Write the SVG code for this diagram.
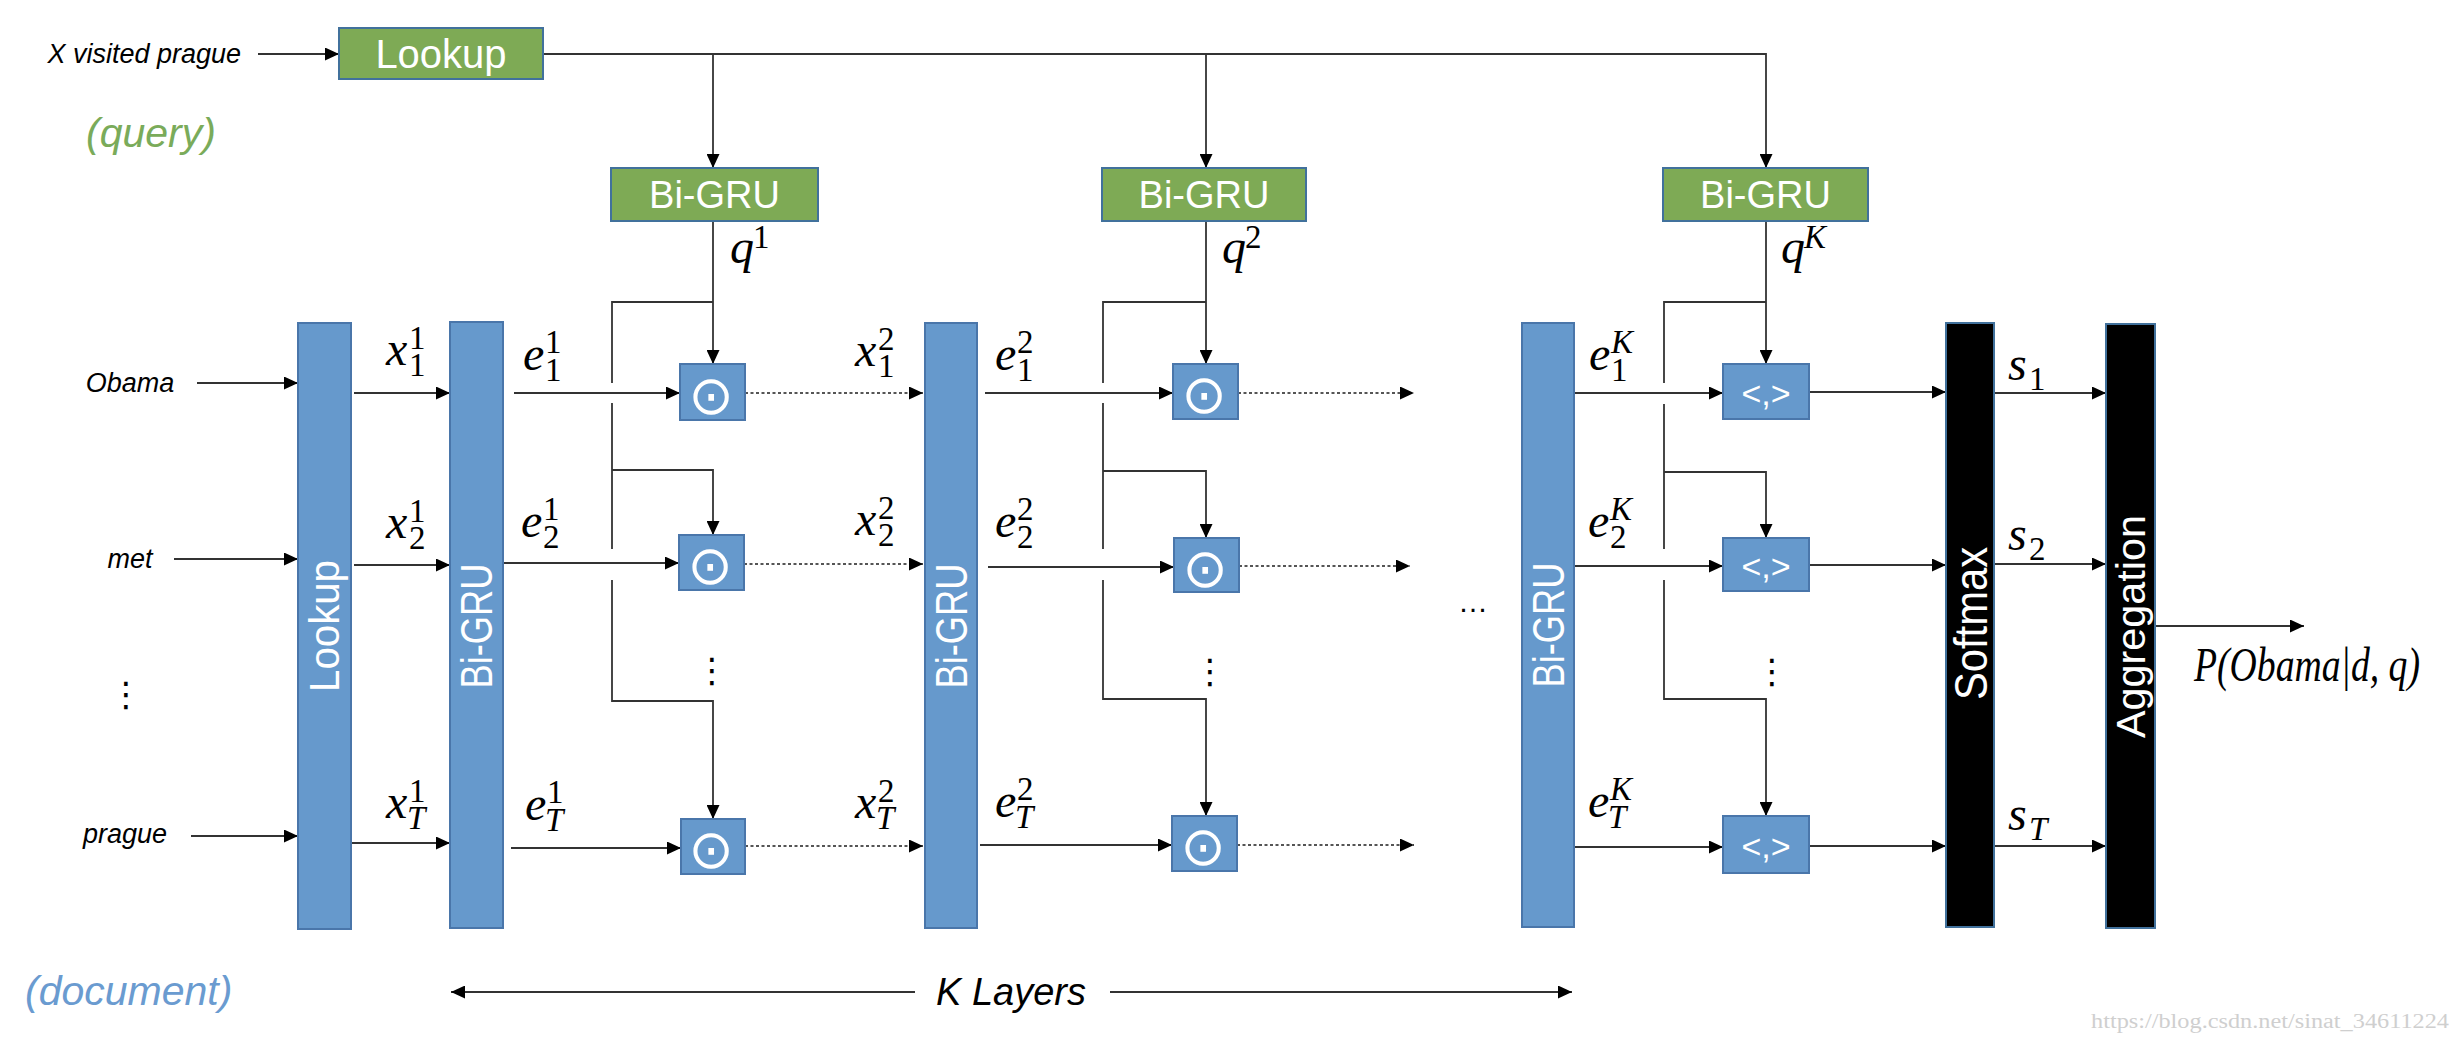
<svg xmlns="http://www.w3.org/2000/svg" width="2462" height="1042" viewBox="0 0 2462 1042">
<defs>
<style>
.bg{fill:#fff}
.g{fill:#7EAA55;stroke:#41719C;stroke-width:2}
.b{fill:#6699CC;stroke:#4A76AA;stroke-width:2}
.k{fill:#000;stroke:#41719C;stroke-width:2}
.wt{fill:#fff;font-family:"Liberation Sans",Arial,sans-serif;text-anchor:middle}
.sym{fill:#fff;font-family:"DejaVu Sans",sans-serif;text-anchor:middle;font-size:54px}
.ip{fill:#fff;font-family:"Liberation Sans",Arial,sans-serif;text-anchor:middle;font-size:34px}
.lbl{font-family:"Liberation Sans",Arial,sans-serif;font-style:italic;font-size:27px;fill:#000}
.m{font-family:"Liberation Serif","Times New Roman",serif;font-style:italic;font-size:48px;fill:#000}
.s{font-size:33px}
.d{font-style:normal}
.dots{font-family:"DejaVu Sans",sans-serif;font-size:34px;fill:#000;text-anchor:middle}
.ln{fill:none;stroke:#333;stroke-width:1.8}
.dt{fill:none;stroke:#555;stroke-width:2;stroke-dasharray:3 2.5}
</style>
<marker id="ah" markerWidth="14" markerHeight="13" refX="14" refY="6.5" orient="auto-start-reverse" markerUnits="userSpaceOnUse">
<path d="M0,0 L14,6.5 L0,13 z" fill="#000"/>
</marker>
</defs>
<rect class="bg" x="0" y="0" width="2462" height="1042"/>

<g id="connectors">
<path class="ln" d="M258,54 H339" marker-end="url(#ah)"/>
<path class="ln" d="M543,54 H1766 V168" marker-end="url(#ah)"/>
<path class="ln" d="M713,54 V168" marker-end="url(#ah)"/>
<path class="ln" d="M1206,54 V168" marker-end="url(#ah)"/>

<path class="ln" d="M197,383 H298" marker-end="url(#ah)"/>
<path class="ln" d="M174,559 H298" marker-end="url(#ah)"/>
<path class="ln" d="M191,836 H298" marker-end="url(#ah)"/>

<path class="ln" d="M354,393 H450" marker-end="url(#ah)"/>
<path class="ln" d="M354,565 H450" marker-end="url(#ah)"/>
<path class="ln" d="M351,843 H450" marker-end="url(#ah)"/>

<path class="ln" d="M514,393 H680" marker-end="url(#ah)"/>
<path class="ln" d="M503,563 H679" marker-end="url(#ah)"/>
<path class="ln" d="M511,848 H681" marker-end="url(#ah)"/>

<path class="ln" d="M713,221 V364" marker-end="url(#ah)"/>
<path class="ln" d="M713,302 H612 V383 M612,403 V549 M612,580 V701 H713 V819" marker-end="url(#ah)"/>
<path class="ln" d="M612,470 H713 V535" marker-end="url(#ah)"/>

<path class="dt" d="M745,393 H923" marker-end="url(#ah)"/>
<path class="dt" d="M744,564 H923" marker-end="url(#ah)"/>
<path class="dt" d="M745,846 H923" marker-end="url(#ah)"/>

<path class="ln" d="M985,393 H1173" marker-end="url(#ah)"/>
<path class="ln" d="M988,567 H1174" marker-end="url(#ah)"/>
<path class="ln" d="M980,845 H1172" marker-end="url(#ah)"/>

<path class="ln" d="M1206,221 V364" marker-end="url(#ah)"/>
<path class="ln" d="M1206,302 H1103 V383 M1103,403 V549 M1103,580 V699 H1206 V816" marker-end="url(#ah)"/>
<path class="ln" d="M1103,471 H1206 V538" marker-end="url(#ah)"/>

<path class="dt" d="M1238,393 H1414" marker-end="url(#ah)"/>
<path class="dt" d="M1239,566 H1410" marker-end="url(#ah)"/>
<path class="dt" d="M1237,845 H1414" marker-end="url(#ah)"/>

<path class="ln" d="M1574,393 H1723" marker-end="url(#ah)"/>
<path class="ln" d="M1574,566 H1723" marker-end="url(#ah)"/>
<path class="ln" d="M1574,847 H1723" marker-end="url(#ah)"/>

<path class="ln" d="M1766,221 V364" marker-end="url(#ah)"/>
<path class="ln" d="M1766,302 H1664 V383 M1664,404 V549 M1664,580 V699 H1766 V816" marker-end="url(#ah)"/>
<path class="ln" d="M1664,472 H1766 V538" marker-end="url(#ah)"/>

<path class="ln" d="M1809,392 H1946" marker-end="url(#ah)"/>
<path class="ln" d="M1809,565 H1946" marker-end="url(#ah)"/>
<path class="ln" d="M1809,846 H1946" marker-end="url(#ah)"/>

<path class="ln" d="M1994,393 H2106" marker-end="url(#ah)"/>
<path class="ln" d="M1994,564 H2106" marker-end="url(#ah)"/>
<path class="ln" d="M1994,846 H2106" marker-end="url(#ah)"/>

<path class="ln" d="M2155,626 H2304" marker-end="url(#ah)"/>

<path class="ln" d="M915,992 H451" marker-end="url(#ah)"/>
<path class="ln" d="M1110,992 H1572" marker-end="url(#ah)"/>
</g>

<g id="query-input"><text class="lbl" x="241" y="63" text-anchor="end">X visited prague</text></g>
<g id="query-label"><text x="86" y="147" font-family="Liberation Sans, Arial, sans-serif" font-style="italic" font-size="41" fill="#7AAB5A">(query)</text></g>
<g id="document-label"><text x="25" y="1005" font-family="Liberation Sans, Arial, sans-serif" font-style="italic" font-size="41" fill="#6A9BD0">(document)</text></g>
<g id="k-layers"><text x="1011" y="1005" font-family="Liberation Sans, Arial, sans-serif" font-style="italic" font-size="38" text-anchor="middle">K Layers</text></g>

<g id="lookup-query"><rect class="g" x="339" y="28" width="204" height="51"/><text class="wt" x="441" y="68" font-size="40">Lookup</text></g>
<g id="bigru-q1"><rect class="g" x="611" y="168" width="207" height="53"/><text class="wt" x="714.5" y="208" font-size="38">Bi-GRU</text></g>
<g id="bigru-q2"><rect class="g" x="1102" y="168" width="204" height="53"/><text class="wt" x="1204" y="208" font-size="38">Bi-GRU</text></g>
<g id="bigru-qK"><rect class="g" x="1663" y="168" width="205" height="53"/><text class="wt" x="1765.5" y="208" font-size="38">Bi-GRU</text></g>

<g id="word-obama"><text class="lbl" x="130" y="392" text-anchor="middle">Obama</text></g>
<g id="word-met"><text class="lbl" x="130" y="568" text-anchor="middle">met</text></g>
<g id="word-dots"><text class="dots" x="126" y="706">⋮</text></g>
<g id="word-prague"><text class="lbl" x="125" y="843" text-anchor="middle">prague</text></g>

<g id="lookup-doc"><rect class="b" x="298" y="323" width="53" height="606"/><text class="wt" transform="translate(324.5,626) rotate(-90)" x="0" y="14.5" font-size="42" textLength="132" lengthAdjust="spacingAndGlyphs">Lookup</text></g>
<g id="bigru-d1"><rect class="b" x="450" y="322" width="53" height="606"/><text class="wt" transform="translate(476.5,626) rotate(-90)" x="0" y="15.5" font-size="44" textLength="125" lengthAdjust="spacingAndGlyphs">Bi-GRU</text></g>
<g id="bigru-d2"><rect class="b" x="925" y="323" width="52" height="605"/><text class="wt" transform="translate(951,626) rotate(-90)" x="0" y="15.5" font-size="44" textLength="125" lengthAdjust="spacingAndGlyphs">Bi-GRU</text></g>
<g id="bigru-dK"><rect class="b" x="1522" y="323" width="52" height="604"/><text class="wt" transform="translate(1548,625) rotate(-90)" x="0" y="15.5" font-size="44" textLength="125" lengthAdjust="spacingAndGlyphs">Bi-GRU</text></g>
<g id="softmax"><rect class="k" x="1946" y="323" width="48" height="604"/><text class="wt" transform="translate(1970,623.5) rotate(-90)" x="0" y="17" font-size="46" textLength="153" lengthAdjust="spacingAndGlyphs">Softmax</text></g>
<g id="aggregation"><rect class="k" x="2106" y="324" width="49" height="604"/><text class="wt" transform="translate(2130.5,626.5) rotate(-90)" x="0" y="14.5" font-size="40" textLength="223" lengthAdjust="spacingAndGlyphs">Aggregation</text></g>

<g id="dot-1-1"><rect class="b" x="680" y="364" width="65" height="56"/><text class="sym" x="711" y="414">⊙</text></g>
<g id="dot-1-2"><rect class="b" x="679" y="535" width="65" height="55"/><text class="sym" x="710" y="584">⊙</text></g>
<g id="dot-1-dots"><text class="dots" x="712" y="682">⋮</text></g>
<g id="dot-1-T"><rect class="b" x="681" y="819" width="64" height="55"/><text class="sym" x="711" y="868">⊙</text></g>

<g id="dot-2-1"><rect class="b" x="1173" y="364" width="65" height="55"/><text class="sym" x="1204" y="413">⊙</text></g>
<g id="dot-2-2"><rect class="b" x="1174" y="538" width="65" height="54"/><text class="sym" x="1205" y="587">⊙</text></g>
<g id="dot-2-dots"><text class="dots" x="1210" y="683">⋮</text></g>
<g id="dot-2-T"><rect class="b" x="1172" y="816" width="65" height="55"/><text class="sym" x="1203" y="865">⊙</text></g>

<g id="layer-ellipsis"><text x="1473" y="612" font-family="Liberation Sans, Arial, sans-serif" font-size="30" text-anchor="middle">…</text></g>

<g id="inner-K-1"><rect class="b" x="1723" y="364" width="86" height="55"/><text class="ip" x="1766" y="405">&lt;,&gt;</text></g>
<g id="inner-K-2"><rect class="b" x="1723" y="538" width="86" height="53"/><text class="ip" x="1766" y="578">&lt;,&gt;</text></g>
<g id="inner-K-dots"><text class="dots" x="1772" y="683">⋮</text></g>
<g id="inner-K-T"><rect class="b" x="1723" y="816" width="86" height="57"/><text class="ip" x="1766" y="858">&lt;,&gt;</text></g>

<g id="labels-math">
<text class="m" x="386" y="365">x<tspan class="s d" x="409" y="349">1</tspan><tspan class="s d" x="409" y="376">1</tspan></text>
<text class="m" x="386" y="538">x<tspan class="s d" x="409" y="522">1</tspan><tspan class="s d" x="409" y="549">2</tspan></text>
<text class="m" x="386" y="818">x<tspan class="s d" x="409" y="802">1</tspan><tspan class="s" x="407" y="829">T</tspan></text>

<text class="m" x="523" y="370">e<tspan class="s d" x="545" y="353">1</tspan><tspan class="s d" x="545" y="381">1</tspan></text>
<text class="m" x="521" y="537">e<tspan class="s d" x="543" y="520">1</tspan><tspan class="s d" x="543" y="548">2</tspan></text>
<text class="m" x="525" y="820">e<tspan class="s d" x="547" y="803">1</tspan><tspan class="s" x="545" y="831">T</tspan></text>

<text class="m" x="855" y="366">x<tspan class="s d" x="878" y="350">2</tspan><tspan class="s d" x="878" y="377">1</tspan></text>
<text class="m" x="855" y="535">x<tspan class="s d" x="878" y="519">2</tspan><tspan class="s d" x="878" y="546">2</tspan></text>
<text class="m" x="855" y="818">x<tspan class="s d" x="878" y="802">2</tspan><tspan class="s" x="876" y="829">T</tspan></text>

<text class="m" x="995" y="370">e<tspan class="s d" x="1017" y="353">2</tspan><tspan class="s d" x="1017" y="381">1</tspan></text>
<text class="m" x="995" y="537">e<tspan class="s d" x="1017" y="520">2</tspan><tspan class="s d" x="1017" y="548">2</tspan></text>
<text class="m" x="995" y="817">e<tspan class="s d" x="1017" y="800">2</tspan><tspan class="s" x="1015" y="828">T</tspan></text>

<text class="m" x="1589" y="370">e<tspan class="s" x="1611" y="353">K</tspan><tspan class="s d" x="1611" y="381">1</tspan></text>
<text class="m" x="1588" y="537">e<tspan class="s" x="1610" y="520">K</tspan><tspan class="s d" x="1610" y="548">2</tspan></text>
<text class="m" x="1588" y="817">e<tspan class="s" x="1610" y="800">K</tspan><tspan class="s" x="1608" y="828">T</tspan></text>

<text class="m" x="730" y="263">q<tspan class="s d" x="753" y="248">1</tspan></text>
<text class="m" x="1222" y="263">q<tspan class="s d" x="1245" y="248">2</tspan></text>
<text class="m" x="1781" y="263">q<tspan class="s" x="1804" y="248">K</tspan></text>

<text class="m" x="2008" y="380">s<tspan class="s d" x="2029" y="390">1</tspan></text>
<text class="m" x="2008" y="550">s<tspan class="s d" x="2029" y="560">2</tspan></text>
<text class="m" x="2008" y="830">s<tspan class="s" x="2029" y="840">T</tspan></text>

<text class="m" x="2194" y="681" font-size="38" textLength="226" lengthAdjust="spacingAndGlyphs">P(Obama|d, q)</text>
</g>

<g id="watermark"><text x="2091" y="1028" font-family="Liberation Serif, serif" font-size="20" fill="#cfcfcf" textLength="358" lengthAdjust="spacingAndGlyphs">https://blog.csdn.net/sinat_34611224</text></g>
</svg>
